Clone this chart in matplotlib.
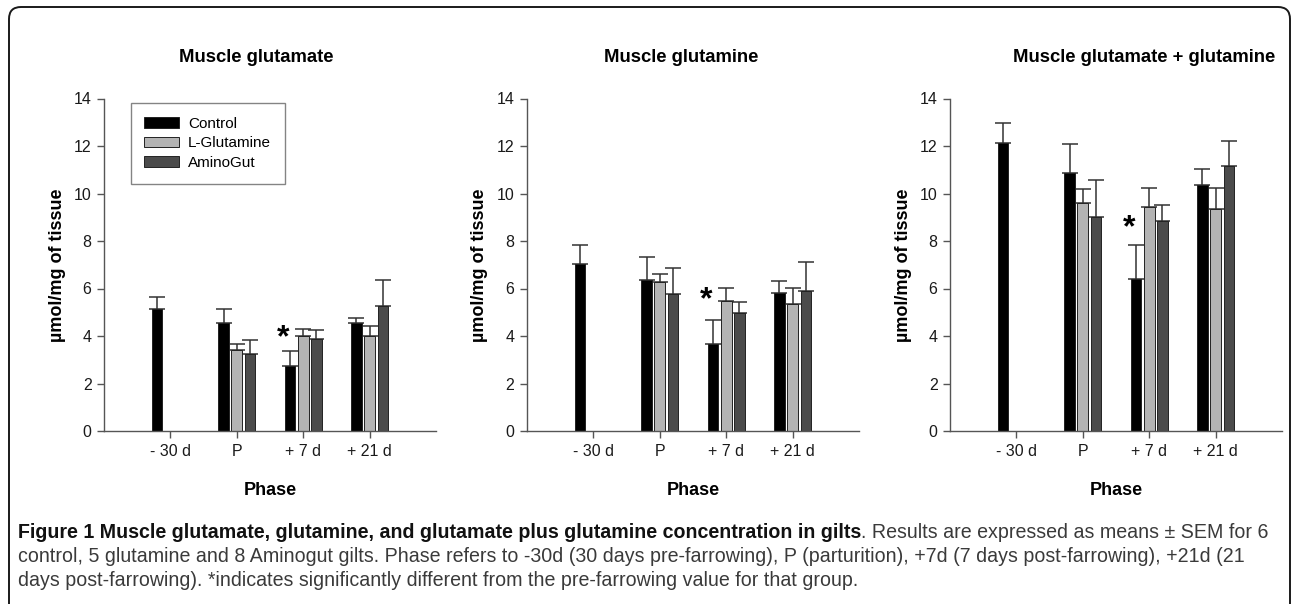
import numpy as np
import matplotlib
matplotlib.use("Agg")
import matplotlib.pyplot as plt
from matplotlib import font_manager
from matplotlib.patches import FancyBboxPatch

# ---- data ----
phases = ["- 30 d", "P", "+ 7 d", "+ 21 d"]
groups = ["Control", "L-Glutamine", "AminoGut"]
colors = ["#000000", "#b4b4b4", "#4b4b4b"]

titles = ["Muscle glutamate", "Muscle glutamine", "Muscle glutamate + glutamine"]

# means per group, NaN = not measured
glu_mean = [[5.12, 4.56, 2.73, 4.54],
            [np.nan, 3.40, 3.98, 3.98],
            [np.nan, 3.24, 3.88, 5.26]]
glu_top = [[5.66, 5.15, 3.35, 4.76],
           [np.nan, 3.66, 4.29, 4.43],
           [np.nan, 3.83, 4.26, 6.36]]

gln_mean = [[7.02, 6.36, 3.66, 5.80],
            [np.nan, 6.26, 5.49, 5.36],
            [np.nan, 5.77, 4.98, 5.88]]
gln_top = [[7.82, 7.34, 4.69, 6.33],
           [np.nan, 6.61, 6.04, 6.01],
           [np.nan, 6.85, 5.42, 7.11]]

sum_mean = [[12.11, 10.88, 6.38, 10.34],
            [np.nan, 9.62, 9.45, 9.33],
            [np.nan, 9.01, 8.84, 11.14]]
sum_top = [[12.98, 12.08, 7.84, 11.04],
           [np.nan, 10.18, 10.24, 10.22],
           [np.nan, 10.56, 9.52, 12.20]]

star_y = [3.9, 5.5, 8.55]   # asterisk height, +7 d group

caption_bold = "Figure 1 Muscle glutamate, glutamine, and glutamate plus glutamine concentration in gilts"
caption_rest = [". Results are expressed as means \u00b1 SEM for 6",
                "control, 5 glutamine and 8 Aminogut gilts. Phase refers to -30d (30 days pre-farrowing), P (parturition), +7d (7 days post-farrowing), +21d (21",
                "days post-farrowing). *indicates significantly different from the pre-farrowing value for that group."]

# ---- fonts ----
names = {f.name for f in font_manager.fontManager.ttflist}
plt.rcParams["font.family"] = ["Liberation Sans", "DejaVu Sans"]
cap_font = "Liberation Sans Narrow" if "Liberation Sans Narrow" in names else "Liberation Sans"

W, H = 1292, 604
fig = plt.figure(figsize=(W / 100, H / 100), dpi=100)

# rounded frame round everything
frame = FancyBboxPatch((9, -12), 1281, 609, boxstyle="round,pad=0,rounding_size=12",
                       transform=None, fill=False, edgecolor="#1a1a1a", linewidth=1.4)
fig.patches.append(frame)

ax_left = [104, 527, 950]
ax_w = 332
ax_bottom = 431
ax_top = 98.5
title_x = [256, 681, 1144]
ylab_x = [57, 480, 903]

x = np.arange(len(phases))
bw = 0.16
offs = [-0.2, 0.0, 0.2]

means = [glu_mean, gln_mean, sum_mean]
tops = [glu_top, gln_top, sum_top]

for k in range(3):
    ax = fig.add_axes([ax_left[k] / W, (H - ax_bottom) / H, ax_w / W, (ax_bottom - ax_top) / H])
    for g in range(3):
        m = np.array(means[k][g])
        t = np.array(tops[k][g])
        ax.bar(x + offs[g], m, width=bw, color=colors[g], edgecolor="#222222",
               linewidth=0.7, label=groups[g], zorder=2)
        err = np.vstack([np.zeros_like(m), t - m])
        ax.errorbar(x + offs[g], m, yerr=err, fmt="none", ecolor="#333333",
                    elinewidth=1.1, capsize=6, capthick=1.1, zorder=1)
    ax.set_xlim(-1, 4)
    ax.set_ylim(0, 14)
    ax.set_yticks(np.arange(0, 15, 2))
    ax.set_xticks(x)
    ax.set_xticklabels(phases)
    for s in ["top", "right"]:
        ax.spines[s].set_visible(False)
    for s in ["left", "bottom"]:
        ax.spines[s].set_color("#555555")
        ax.spines[s].set_linewidth(1.0)
    ax.tick_params(direction="out", length=5, width=1.0, color="#555555",
                   labelsize=11.5, labelcolor="#1a1a1a", pad=4)
    ax.set_xlabel("Phase", fontsize=13, fontweight="bold", labelpad=17)
    ax.text(2 - 0.3, star_y[k], "*", fontsize=23, fontweight="bold",
            ha="center", va="center")
    fig.text(title_x[k] / W, 1 - 57 / H, titles[k], fontsize=13.3, fontweight="bold",
             ha="center", va="center")
    fig.text(ylab_x[k] / W, 1 - 265 / H, "\u00b5mol/mg of tissue", fontsize=13,
             fontweight="bold", rotation=90, ha="center", va="center")
    if k == 0:
        leg = ax.legend(loc="upper left", bbox_to_anchor=(0.08, 0.987), fontsize=11,
                        frameon=True, fancybox=False, handlelength=2.3, handleheight=0.7,
                        borderpad=0.9, labelspacing=0.38, handletextpad=0.55,
                        borderaxespad=0)
        leg.get_frame().set_edgecolor("#666666")
        leg.get_frame().set_linewidth(1.0)

# caption
cap_size = 14.1
r = fig.canvas.get_renderer()
tb = fig.text(18 / W, 1 - 532 / H, caption_bold, fontsize=cap_size, fontweight="bold",
              family=cap_font, color="#111111", va="center")
bb = tb.get_window_extent(r)
fig.text(bb.x1 / W, 1 - 532 / H, caption_rest[0], fontsize=cap_size, family=cap_font,
         color="#3a3a3a", va="center")
fig.text(18 / W, 1 - 556 / H, caption_rest[1], fontsize=cap_size, family=cap_font,
         color="#3a3a3a", va="center")
fig.text(18 / W, 1 - 580 / H, caption_rest[2], fontsize=cap_size, family=cap_font,
         color="#3a3a3a", va="center")

fig.savefig("out.png", dpi=100)
